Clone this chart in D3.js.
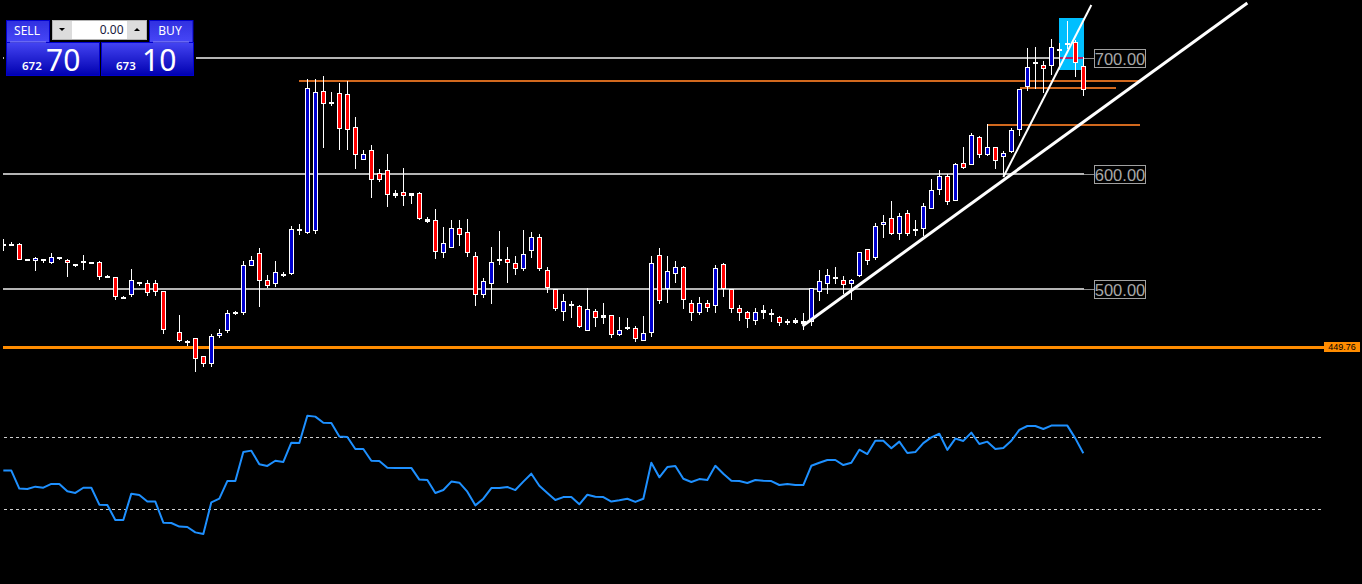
<!DOCTYPE html>
<html><head><meta charset="utf-8">
<style>html,body{margin:0;padding:0;background:#000;overflow:hidden}svg{display:block}</style>
<script src="https://cdn.jsdelivr.net/npm/d3@7"></script></head><body>
<script>
const bars = d3.range(136);
const opens = [537.7,536.9,538.4,523.9,523.9,523.9,522.1,525.6,524.7,519.5,522.1,521.2,523.0,509.1,510.0,490.9,494.4,503.9,504.8,504.8,497.8,null,462.0,452.7,456.8,441.2,434.5,458.8,463.1,477.9,478.7,519.5,530.5,507.1,503.9,510.8,512.6,549.9,548.1,549.9,671.1,660.1,669.4,668.5,639.9,611.7,619.9,599.9,602.6,580.5,583.5,582.6,582.6,557.9,559.2,531.0,535.4,552.2,548.8,527.9,494.6,504.2,523.9,525.3,521.9,517.2,532.8,544.4,515.8,499.3,479.9,485.7,484.6,463.4,480.2,474.7,476.7,459.9,464.8,465.4,454.7,461.3,528.8,499.8,512.8,518.4,487.1,479.0,487.1,485.1,521.0,499.3,482.8,479.3,472.0,481.1,477.9,475.0,470.3,472.4,471.5,471.3,497.2,504.2,508.5,507.1,504.2,511.1,534.0,526.7,554.8,560.9,547.0,565.2,549.6,551.3,569.2,585.7,597.3,576.2,609.1,607.4,631.2,616.1,622.5,614.3,618.7,637.8,675.1,694.8,693.7,692.8,706.9,711.3,713.6,692.8];
const highs = [542.7,540.3,539.2,525.6,527.3,525.6,530.8,527.3,525.6,521.2,529.1,523.0,523.9,511.7,510.0,493.5,516.9,505.6,507.4,507.4,497.8,null,477.0,455.3,457.0,441.2,460.5,464.8,481.1,480.5,523.9,528.2,535.1,511.7,523.9,514.3,554.2,555.9,681.8,681.8,684.4,670.5,678.3,680.0,648.8,620.2,624.5,603.7,616.7,585.5,604.5,582.6,583.7,562.0,569.0,553.3,559.4,559.4,560.3,531.7,508.8,536.0,549.9,536.0,528.2,550.7,549.0,547.3,518.6,499.3,495.2,489.1,485.7,500.4,482.2,487.4,476.7,475.3,474.4,467.5,476.1,528.2,535.1,528.2,523.9,519.5,490.0,492.6,490.0,520.4,522.1,499.3,485.7,480.5,483.1,485.7,482.2,476.1,473.5,474.4,478.7,500.2,515.8,516.9,518.4,510.6,508.0,531.4,534.0,556.6,563.5,575.7,565.2,567.8,559.2,573.9,594.7,602.5,599.1,608.6,623.0,634.6,632.6,642.5,622.5,619.6,639.3,673.4,708.4,709.8,697.1,716.2,712.7,732.1,715.6,701.1];
const lows = [532.8,536.9,524.7,523.9,515.2,522.2,521.2,524.7,510.0,518.6,516.0,521.2,507.4,509.1,490.0,490.9,492.6,502.2,493.5,493.5,460.5,null,453.6,450.1,427.5,431.9,431.9,457.0,461.4,477.0,477.0,519.5,483.9,500.4,501.3,510.0,511.7,546.4,547.3,547.3,621.9,658.3,620.2,620.2,603.7,611.7,578.5,592.4,570.7,578.5,571.6,573.3,559.4,556.8,525.6,526.5,535.4,536.9,527.6,484.8,491.7,486.5,520.4,504.8,511.7,515.2,526.5,515.2,496.1,480.5,471.8,474.4,465.7,463.4,466.6,469.2,457.0,458.8,464.0,453.6,454.7,457.9,486.5,487.4,504.8,482.2,471.8,477.0,479.6,478.7,492.6,478.7,471.8,465.7,468.3,473.5,470.9,467.5,468.3,469.2,464.0,467.5,489.4,495.5,504.2,495.5,490.3,510.2,520.6,525.0,543.8,546.4,542.1,545.5,545.5,545.5,569.2,581.4,572.7,576.2,603.9,607.4,613.5,615.2,603.9,597.0,617.8,632.6,671.6,673.1,669.9,685.5,690.4,707.5,683.8,666.8];
const closes = [539.0,538.6,525.0,525.6,526.5,525.6,527.0,527.3,522.1,521.2,523.9,523.0,510.0,510.8,492.6,492.6,507.4,505.6,496.1,497.0,464.0,null,454.4,454.4,438.8,434.5,458.5,461.1,478.5,479.6,520.1,524.5,506.5,502.2,514.0,512.6,551.3,551.6,673.7,670.2,660.3,661.8,638.6,637.8,616.1,616.4,594.4,594.4,581.1,582.6,580.5,580.5,560.3,560.0,532.0,539.2,552.2,546.7,531.0,494.6,506.2,522.7,525.3,522.4,517.2,529.7,544.4,517.2,500.7,482.5,488.9,486.8,466.9,482.0,474.7,476.7,459.9,463.7,466.6,456.4,461.1,521.9,489.4,514.9,518.4,490.3,479.0,487.1,483.3,517.5,499.3,482.5,479.0,473.8,479.3,479.0,479.0,470.3,471.5,470.3,469.4,500.2,506.2,511.4,510.0,503.3,507.1,531.4,524.1,554.0,557.4,547.3,562.6,547.5,551.3,571.3,585.2,597.3,575.3,607.7,604.8,632.9,616.1,623.0,610.9,617.3,637.3,673.4,691.9,696.3,690.2,709.3,707.8,712.7,695.4,672.0];
const rsi = [51.6,51.6,41.6,41.4,42.7,42.1,44.2,44.2,40.1,39.2,42.1,42.1,32.7,32.5,24.2,24.2,38.8,38.1,34.4,34.4,22.7,22.5,20.5,20.3,17.3,16.4,34.0,36.0,45.8,45.8,61.9,62.7,55.1,54.2,57.1,56.4,67.1,66.9,82.1,81.6,78.2,78.1,70.5,70.3,63.6,63.6,57.1,56.9,53.2,53.1,53.1,53.1,46.6,46.4,39.2,40.8,45.5,44.9,39.9,32.3,36.0,41.9,41.9,42.5,40.8,45.5,49.9,43.2,39.2,35.3,36.9,36.9,32.9,38.2,37.1,36.9,34.4,35.1,36.0,34.2,36.0,56.0,47.9,53.6,54.2,47.1,45.3,46.9,46.4,54.3,49.9,46.0,45.8,44.7,46.4,46.0,45.8,43.6,44.2,43.6,43.6,54.3,56.0,57.5,57.5,54.7,56.0,63.2,60.8,68.2,68.2,64.0,67.7,61.4,61.9,66.9,70.1,72.1,63.1,69.4,68.1,72.7,66.4,67.7,63.6,64.2,68.2,74.2,76.4,76.4,74.7,76.6,76.6,76.6,69.5,61.2];
const rsiLevels = [70, 30];
const gridLevels = [700, 600, 500];
const gridLabels = ["700.00", "600.00", "500.00"];
const supportLevel = 449.76;
const supportLabel = "449.76";
const resistance = [[37.0,680],[127.1,674],[123,641.9]];
const resistanceEnd = [[142.1,680],[139.1,674],[142.1,641.9]];
const trendThick = [[99.9,467.5],[155.5,747.7]];
const trendThin = [[125,596.7],[136,746]];
const highlight = {x0:132, x1:135, p0:735.1, p1:690};
const panelSell = ["672","70"];
const panelBuy = ["673","10"];

const W=1362,H=584;
const x=d3.scaleLinear().domain([0,135]).range([3.33,1083.33]);
const y=d3.scaleLinear().domain([700,500]).range([58,288.5]);
const yR=d3.scaleLinear().domain([70,30]).range([437.5,509.5]);

const svg=d3.select("body").append("svg").attr("width",W).attr("height",H).style("background","#000");
const defs=svg.append("defs");
defs.append("clipPath").attr("id","c").append("rect").attr("x",3).attr("y",0).attr("width",W).attr("height",H);
const g=svg.append("g").attr("clip-path","url(#c)");
const sharp=g.append("g").attr("shape-rendering","crispEdges");

// highlight rectangle
const hx=Math.round(x(highlight.x0)), hw=Math.round(x(highlight.x1))-hx+1;
sharp.append("rect").attr("x",hx).attr("width",hw)
  .attr("y",y(highlight.p0)).attr("height",y(highlight.p1)-y(highlight.p0)).attr("fill","#00bfff");

// horizontal price levels
gridLevels.forEach((p,k)=>{
  const yy=Math.round(y(p)+0.3);
  sharp.append("rect").attr("x",3).attr("width",1081).attr("y",yy-1).attr("height",2).attr("fill","#b4b4b4");
  sharp.append("rect").attr("x",1084).attr("width",10).attr("y",yy).attr("height",1).attr("fill","#8a8a8a");
  if(k===0) sharp.append("rect").attr("x",hx).attr("width",hw).attr("y",yy-1).attr("height",2).attr("fill","#b0206a");
  g.append("rect").attr("x",1094.5).attr("y",yy-8.5).attr("width",51).attr("height",18).attr("fill","#000").attr("stroke","#a0a0a0").attr("shape-rendering","crispEdges");
  g.append("text").attr("x",1120).attr("y",yy+6.5).attr("text-anchor","middle").attr("font-family","'Liberation Sans'").attr("font-size",16.5).attr("fill","#a8a8a8").text(gridLabels[k]);
});

// resistance lines
resistance.forEach((r,k)=>{
  sharp.append("rect").attr("x",x(r[0])).attr("width",x(resistanceEnd[k][0])-x(r[0])).attr("y",Math.round(y(r[1]))-1).attr("height",2).attr("fill","#d2691e");
});
// support
sharp.append("rect").attr("x",3).attr("width",1321).attr("y",Math.round(y(supportLevel))).attr("height",3).attr("fill","#ff8c00");

// candles
const live=bars.filter(i=>opens[i]!==null);
sharp.append("g").selectAll("line").data(live).join("line")
  .attr("x1",i=>Math.round(x(i))+.5).attr("x2",i=>Math.round(x(i))+.5)
  .attr("y1",i=>y(highs[i])).attr("y2",i=>y(lows[i])).attr("stroke","#fff").attr("stroke-width",1);
sharp.append("g").selectAll("rect").data(live).join("rect")
  .attr("x",i=>Math.round(x(i))-2).attr("width",5)
  .attr("y",i=>y(Math.max(opens[i],closes[i])))
  .attr("height",i=>Math.max(2,Math.abs(y(opens[i])-y(closes[i])))).attr("fill","#fff");
sharp.append("g").selectAll("rect").data(live.filter(i=>Math.abs(y(opens[i])-y(closes[i]))>2.5)).join("rect")
  .attr("x",i=>Math.round(x(i))-1).attr("width",3)
  .attr("y",i=>y(Math.max(opens[i],closes[i]))+1)
  .attr("height",i=>Math.abs(y(opens[i])-y(closes[i]))-2)
  .attr("fill",i=>closes[i]<opens[i]?"#ff0000":"#0000cd");

// trend lines
const ln=d3.line().x(d=>x(d[0])).y(d=>y(d[1]));
g.append("path").attr("d",ln(trendThick)).attr("stroke","#fff").attr("stroke-width",3).attr("fill","none");
g.append("path").attr("d",ln(trendThin)).attr("stroke","#fff").attr("stroke-width",2).attr("fill","none");

// support label
sharp.append("rect").attr("x",1324).attr("width",36).attr("y",Math.round(y(supportLevel))-4).attr("height",10).attr("fill","#ff8c00");
g.append("text").attr("x",1342).attr("y",Math.round(y(supportLevel))+4).attr("text-anchor","middle").attr("font-family","'Liberation Sans'").attr("font-size",9).attr("fill","#000").text(supportLabel);

// RSI
rsiLevels.forEach(l=>{
  sharp.append("line").attr("x1",4).attr("x2",1322).attr("y1",Math.floor(yR(l))+.5).attr("y2",Math.floor(yR(l))+.5)
    .attr("stroke","#cfcfcf").attr("stroke-dasharray","3,3");
});
g.append("path").datum(rsi).attr("d",d3.line().x((d,i)=>x(i)).y(d=>yR(d))).attr("fill","none").attr("stroke","#1e90ff").attr("stroke-width",2).attr("stroke-linejoin","round");

// trade panel
const grad=defs.append("linearGradient").attr("id","gb").attr("x1",0).attr("x2",0).attr("y1",0).attr("y2",1);
grad.append("stop").attr("offset",0).attr("stop-color","#4444f2");
grad.append("stop").attr("offset",1).attr("stop-color","#0000b0");
const gradTop=defs.append("linearGradient").attr("id","gt").attr("x1",0).attr("x2",0).attr("y1",0).attr("y2",1);
gradTop.append("stop").attr("offset",0).attr("stop-color","#3030e0");
gradTop.append("stop").attr("offset",1).attr("stop-color","#4848f8");
const p=svg.append("g");
const F="'Noto Sans','Open Sans',sans-serif";
p.append("rect").attr("x",4).attr("y",18).attr("width",192).attr("height",60).attr("fill","#000");
p.append("rect").attr("x",6.5).attr("y",20.5).attr("width",43).attr("height",23).attr("fill","url(#gt)").attr("stroke","#0000cd");
p.append("rect").attr("x",149.5).attr("y",20.5).attr("width",43.5).attr("height",23).attr("fill","url(#gt)").attr("stroke","#0000cd");
[[6.5,93],[101.5,92]].forEach(b=>p.append("rect").attr("x",b[0]).attr("y",42.5).attr("width",b[1]).attr("height",33).attr("fill","url(#gb)").attr("stroke","#0000cd"));
p.append("rect").attr("x",10).attr("y",41.5).attr("width",36).attr("height",1).attr("fill","#8c8cf0");
p.append("rect").attr("x",153).attr("y",41.5).attr("width",36).attr("height",1).attr("fill","#8c8cf0");
p.append("rect").attr("x",52).attr("y",20).attr("width",95).attr("height",20).attr("fill","#b4b4b4");
p.append("rect").attr("x",53).attr("y",21).attr("width",93).attr("height",18).attr("fill","#dcdcdc");
p.append("rect").attr("x",72).attr("y",21).attr("width",55).attr("height",18).attr("fill","#fff");
p.append("path").attr("d","M59 28h6l-3 3z").attr("fill","#000");
p.append("path").attr("d","M134 31h6l-3-3z").attr("fill","#000");
const T=(s,xx,yy,sz,c,a,w)=>p.append("text").attr("x",xx).attr("y",yy).attr("font-family",F).attr("font-size",sz).attr("fill",c).attr("text-anchor",a||"start").attr("font-weight",w||400).text(s);
T("0.00",123.5,34,12,"#1a1a40","end");
T("SELL",27,35,12,"#fff","middle");
T("BUY",170,35,12,"#fff","middle");
T(panelSell[0],22,70,11.5,"#fff","start",600);
T(panelSell[1],46,71,30,"#fff");
T(panelBuy[0],116,70,11.5,"#fff","start",600);
T(panelBuy[1],142,71,30,"#fff");
</script></body></html>
